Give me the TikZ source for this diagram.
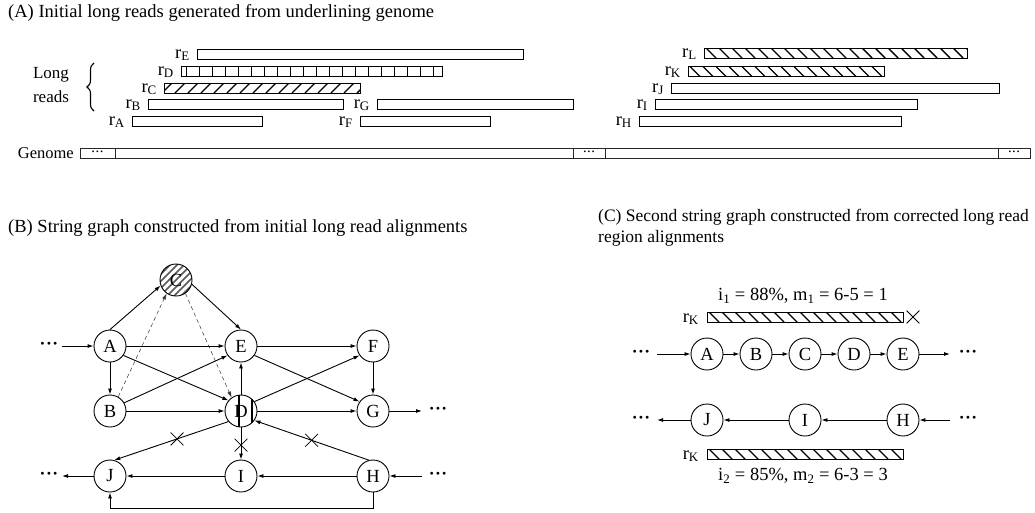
\documentclass[tikz,border=0pt]{standalone}
\usepackage{fontspec}
\setmainfont{Liberation Serif}
\usetikzlibrary{arrows.meta,shapes.misc,decorations.pathreplacing}
\tikzset{
 nd/.style={circle,draw,line width=0.9pt,minimum size=32pt,inner sep=0pt},
 ed/.style={line width=0.9pt,-{Latex[length=6pt,width=4pt]}},
 dsh/.style={ed,dash pattern=on 4pt off 3pt,line width=0.5pt,draw=black!80},
 bar/.style={draw,line width=1pt},
 lab/.style={anchor=base east,inner sep=0pt},
 xmark/.style={cross out,draw,line width=0.8pt,minimum size=12pt,inner sep=0pt},
 dts/.style={inner sep=0pt,font=\fontsize{17.5}{20}\selectfont\bfseries},
 gdts/.style={inner sep=0pt,font=\fontsize{11}{11}\selectfont\bfseries},
 hatch/.style={line width=1.4pt},
}
\newcommand\mydots{\textperiodcentered\kern0.5pt\textperiodcentered\kern0.5pt\textperiodcentered}
% "/" hatch in a rectangle x1,y1 (top) x2,y2 (bottom)
\newcommand\hatchF[4]{%
 \begin{scope}\clip (#1,#2) rectangle (#3,#4);
 \foreach \xx in {0,13,...,400}{\draw[hatch] (#1+\xx-2,#4) -- (#1+\xx+8,#2);}
 \end{scope}}
% "\" hatch
\newcommand\hatchB[4]{%
 \begin{scope}\clip (#1,#2) rectangle (#3,#4);
 \foreach \xx in {0,13,...,400}{\draw[hatch] (#1+\xx+2,#2) -- (#1+\xx+12,#4);}
 \end{scope}}
\newcommand\rlab[4]{\node[lab] (#1) at (#2,#3) {r\textsubscript{#4}};}
\begin{document}
\begin{tikzpicture}[x=1pt,y=-1pt,font=\fontsize{18.5}{22}\selectfont]
\useasboundingbox (0,0) rectangle (1035,512);
% ---------------- Panel A
\node[anchor=west,inner sep=0pt] (tA) at (8,13) {(A) Initial long reads generated from underlining genome};
\node[anchor=base,inner sep=0pt,font=\fontsize{17}{20}\selectfont] (lng) at (51,78) {Long};
\node[anchor=base,inner sep=0pt,font=\fontsize{17}{20}\selectfont] (rds) at (51,102) {reads};
\draw[line width=1.1pt,decorate,decoration={brace,amplitude=7pt}] (94,111) -- (94,63);
% left reads
\hatchF{164}{83}{360}{93}
\draw[bar] (197,49) rectangle (523,59);
\draw[bar] (181,66.5) rectangle (442,76.5);
\foreach \xx in {186,199,...,434}{\draw[line width=1pt] (\xx,66.5) -- (\xx,76.5);}
\draw[bar] (164,83) rectangle (360,93);
\draw[bar] (148,99.5) rectangle (343,109.5);
\draw[bar] (132,116.5) rectangle (262,126.5);
\draw[bar] (377,99.5) rectangle (573,109.5);
\draw[bar] (360,116.5) rectangle (490,126.5);
\rlab{lE}{190}{58}{E}
\rlab{lD}{174}{75}{D}
\rlab{lC}{157}{92}{C}
\rlab{lB}{141}{108}{B}
\rlab{lA}{125}{125}{A}
\rlab{lG}{370}{108}{G}
\rlab{lF}{353}{125}{F}
% right reads
\hatchB{704}{48}{967}{58}
\hatchB{688}{66.5}{884}{76.5}
\draw[bar] (704,48) rectangle (967,58);
\draw[bar] (688,66.5) rectangle (884,76.5);
\draw[bar] (671,83) rectangle (999,93);
\draw[bar] (655,99.5) rectangle (917,109.5);
\draw[bar] (639,116.5) rectangle (901,126.5);
\rlab{lL}{697}{57}{L}
\rlab{lK}{681}{75}{K}
\rlab{lJ}{664}{92}{J}
\rlab{lI}{648}{108}{I}
\rlab{lH}{632}{125}{H}
% genome
\node[anchor=east,inner sep=0pt,font=\fontsize{16.5}{20}\selectfont] (gen) at (74,153) {Genome};
\draw[line width=0.9pt,black!85] (80,148) rectangle (1030,158);
\foreach \xx in {115,573,605,998}{\draw[line width=0.9pt,black!85] (\xx,148) -- (\xx,158);}
\node[gdts] (g1) at (97.5,153) {\mydots};
\node[gdts] (g2) at (589,153) {\mydots};
\node[gdts] (g3) at (1014,153) {\mydots};
% ---------------- Panel B
\node[anchor=west,inner sep=0pt] (tB) at (8,228) {(B) String graph constructed from initial long read alignments};
\begin{scope}
\clip (176,280) circle (16);
\foreach \k in {-42,-35,...,42}{\draw[line width=1.6pt,black!65] (176+\k-20,300) -- (176+\k+20,260);}
\end{scope}
\node[nd] (C) at (176,280) {C};
\node[nd] (A) at (110,346) {A};
\node[nd] (E) at (241,346) {E};
\node[nd] (F) at (373,346) {F};
\node[nd] (B) at (110,411) {B};
\node[nd] (D) at (241,411) {D};
\node[nd] (G) at (373,411) {G};
\node[nd] (J) at (110,476) {J};
\node[nd] (I) at (241,476) {I};
\node[nd] (H) at (373,476) {H};
\draw[line width=1.2pt] (239,395.1) -- (239,426.9);
\draw[line width=1.2pt] (252,399.4) -- (252,422.6);
\node[dts] (dA) at (49,346) {\mydots};
\node[dts] (dG) at (438,411) {\mydots};
\node[dts] (dJ) at (49,476) {\mydots};
\node[dts] (dH) at (438,476) {\mydots};
\coordinate (inA) at (62,346);
\coordinate (outG) at (422,411);
\coordinate (outJ) at (62,476);
\coordinate (inH) at (422,476);
\draw[ed] (inA) -- (A);
\draw[ed] (A) -- (E);
\draw[ed] (E) -- (F);
\draw[ed] (A) -- (B);
\draw[ed] (F) -- (G);
\draw[ed] (B) -- (D);
\draw[ed] (D) -- (G);
\draw[ed] (G) -- (outG);
\draw[ed] (A.north) -- (C.200);
\draw[ed] (C.-15) -- (E.north);
\draw[dsh] (B.60) -- (C.235);
\draw[dsh] (C.-55) -- (D.125);
\draw[ed] (A.-35) -- (D.140);
\draw[ed] (B.30) -- (E.215);
\draw[ed] (D.35) -- (F.215);
\draw[ed] (E.-35) -- (G.145);
\draw[ed] (D) -- (E);
\draw[ed] (D) -- (I) node[xmark,pos=0.55] (x1) {};
\draw[ed] (D.220) -- (J.75) node[xmark,pos=0.45] (x2) {};
\draw[ed] (H.105) -- (D.-35) node[xmark,pos=0.5] (x3) {};
\draw[ed] (I) -- (J);
\draw[ed] (H) -- (I);
\draw[ed] (inH) -- (H);
\draw[ed] (J) -- (outJ);
\draw[ed] (H.south) -- ++(0,16) -| (J.south);
% ---------------- Panel C
\node[anchor=north west,inner sep=0pt,align=left,font=\fontsize{17.5}{21}\selectfont] (tC) at (598,209) {(C) Second string graph constructed from corrected long read\\region alignments};
\node[inner sep=0pt] (i1) at (803,296) {i\textsubscript{1} = 88\%, m\textsubscript{1} = 6-5 = 1};
\hatchB{707}{312}{903}{322}
\draw[bar] (707,312) rectangle (903,322);
\rlab{kK1}{699}{322}{K}
\node[xmark] (x4) at (913,317) {};
\node[nd] (cA) at (707,354) {A};
\node[nd] (cB) at (756,354) {B};
\node[nd] (cC) at (805,354) {C};
\node[nd] (cD) at (854,354) {D};
\node[nd] (cE) at (903,354) {E};
\node[dts] (d1) at (641,354) {\mydots};
\node[dts] (d2) at (968,354) {\mydots};
\coordinate (in1) at (657,354);
\coordinate (out1) at (950,354);
\draw[ed] (in1) -- (cA);
\draw[ed] (cA) -- (cB);
\draw[ed] (cB) -- (cC);
\draw[ed] (cC) -- (cD);
\draw[ed] (cD) -- (cE);
\draw[ed] (cE) -- (out1);
\node[nd] (cJ) at (707,420) {J};
\node[nd] (cI) at (805,420) {I};
\node[nd] (cH) at (903,420) {H};
\node[dts] (d3) at (641,420) {\mydots};
\node[dts] (d4) at (968,420) {\mydots};
\coordinate (out2) at (657,420);
\coordinate (in2) at (950,420);
\draw[ed] (in2) -- (cH);
\draw[ed] (cH) -- (cI);
\draw[ed] (cI) -- (cJ);
\draw[ed] (cJ) -- (out2);
\hatchB{707}{449}{903}{459}
\draw[bar] (707,449) rectangle (903,459);
\rlab{kK2}{699}{459}{K}
\node[inner sep=0pt] (i2) at (803,476) {i\textsubscript{2} = 85\%, m\textsubscript{2} = 6-3 = 3};
\end{tikzpicture}
\end{document}
